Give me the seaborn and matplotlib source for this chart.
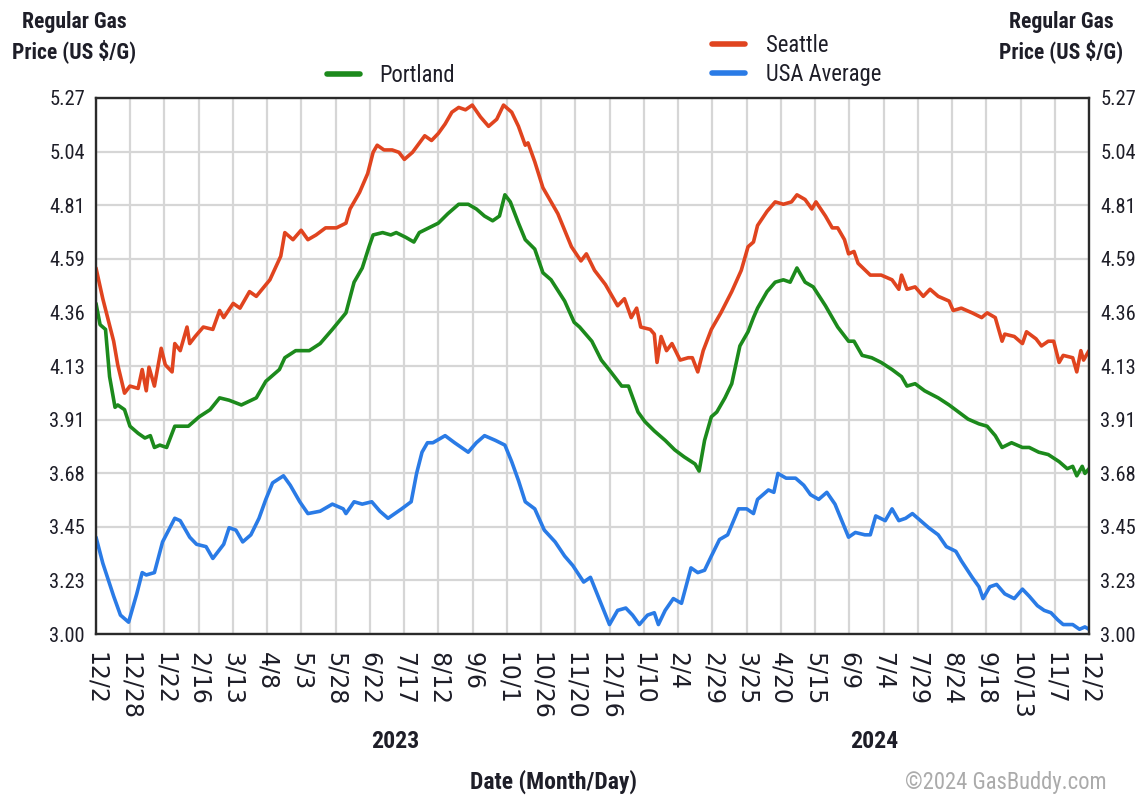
import numpy as np
import pandas as pd
import matplotlib
matplotlib.use("Agg")
import matplotlib.pyplot as plt
from matplotlib.lines import Line2D
from matplotlib.font_manager import FontProperties
from matplotlib.textpath import TextPath
import seaborn as sns

# ---------------- data (days since 12/2/2022, price in US $/gal) ----------------
seattle_days = [0, 5, 13, 16, 21, 25, 31, 34, 37, 39, 43, 48, 51, 56, 58, 62, 67, 69, 73, 79,
                86, 91, 94, 101, 106, 113, 118, 128, 136, 139, 145, 151, 156, 162, 169, 177, 184,
                187, 194, 200, 204, 207, 212, 218, 223, 227, 233, 242, 247, 252, 257, 262, 267,
                272, 277, 283, 289, 295, 300, 306, 311, 316, 318, 323, 329, 335, 340, 345, 350,
                357, 361, 367, 375, 378, 384, 389, 394, 398, 401, 408, 411, 413, 416, 420, 424,
                430, 436, 439, 443, 447, 453, 460, 468, 475, 480, 484, 487, 494, 500, 506, 512,
                516, 522, 527, 530, 537, 542, 546, 551, 554, 558, 561, 570, 578, 586, 591, 593,
                597, 603, 609, 614, 620, 628, 631, 637, 645, 652, 656, 662, 667, 669, 676, 682,
                685, 692, 696, 701, 705, 709, 712, 719, 722, 725, 727, 731]
seattle_price = [4.55, 4.42, 4.24, 4.14, 4.02, 4.05, 4.04, 4.12, 4.03, 4.13, 4.05, 4.21, 4.14,
                 4.11, 4.23, 4.20, 4.30, 4.23, 4.26, 4.30, 4.29, 4.37, 4.34, 4.40, 4.38, 4.45,
                 4.43, 4.50, 4.60, 4.70, 4.67, 4.71, 4.67, 4.69, 4.72, 4.72, 4.74, 4.80, 4.87,
                 4.95, 5.04, 5.07, 5.05, 5.05, 5.04, 5.01, 5.04, 5.11, 5.09, 5.12, 5.16, 5.21,
                 5.23, 5.22, 5.24, 5.19, 5.15, 5.18, 5.24, 5.21, 5.15, 5.07, 5.08, 5.00, 4.89,
                 4.83, 4.78, 4.71, 4.64, 4.58, 4.61, 4.54, 4.48, 4.45, 4.39, 4.42, 4.34, 4.38,
                 4.30, 4.29, 4.27, 4.15, 4.26, 4.20, 4.23, 4.16, 4.17, 4.17, 4.11, 4.20, 4.29,
                 4.36, 4.45, 4.54, 4.64, 4.66, 4.73, 4.79, 4.83, 4.82, 4.83, 4.86, 4.84, 4.80,
                 4.83, 4.77, 4.72, 4.72, 4.67, 4.61, 4.62, 4.57, 4.52, 4.52, 4.50, 4.46, 4.52,
                 4.46, 4.47, 4.43, 4.46, 4.43, 4.41, 4.37, 4.38, 4.36, 4.34, 4.36, 4.34, 4.24,
                 4.27, 4.26, 4.23, 4.28, 4.25, 4.22, 4.24, 4.24, 4.15, 4.18, 4.17, 4.11, 4.20,
                 4.16, 4.20]

portland_days = [0, 3, 7, 10, 14, 16, 21, 25, 31, 36, 40, 43, 47, 52, 58, 68, 76, 84, 91, 98,
                 107, 118, 125, 135, 139, 147, 157, 165, 174, 184, 190, 196, 201, 204, 211, 217,
                 221, 228, 234, 238, 245, 252, 259, 267, 274, 280, 286, 292, 297, 301, 305, 311,
                 316, 323, 329, 335, 345, 352, 356, 365, 372, 379, 387, 392, 399, 404, 411, 419,
                 426, 433, 441, 444, 448, 453, 457, 463, 468, 474, 480, 484, 487, 494, 500, 506,
                 511, 516, 522, 528, 537, 546, 554, 558, 564, 571, 578, 586, 593, 597, 603, 610,
                 620, 628, 635, 642, 650, 656, 662, 667, 674, 682, 687, 694, 701, 709, 715, 719,
                 722, 726, 728, 731]
portland_price = [4.40, 4.31, 4.29, 4.09, 3.96, 3.97, 3.95, 3.88, 3.85, 3.83, 3.84, 3.79, 3.80,
                  3.79, 3.88, 3.88, 3.92, 3.95, 4.00, 3.99, 3.97, 4.00, 4.07, 4.12, 4.17, 4.20,
                  4.20, 4.23, 4.29, 4.36, 4.49, 4.55, 4.64, 4.69, 4.70, 4.69, 4.70, 4.68, 4.66,
                  4.70, 4.72, 4.74, 4.78, 4.82, 4.82, 4.80, 4.77, 4.75, 4.77, 4.86, 4.83, 4.74,
                  4.67, 4.63, 4.53, 4.50, 4.41, 4.32, 4.30, 4.24, 4.16, 4.11, 4.05, 4.05, 3.94,
                  3.90, 3.86, 3.82, 3.78, 3.75, 3.72, 3.69, 3.82, 3.92, 3.94, 4.00, 4.06, 4.22,
                  4.28, 4.34, 4.38, 4.45, 4.49, 4.50, 4.49, 4.55, 4.49, 4.47, 4.39, 4.30, 4.24,
                  4.24, 4.18, 4.17, 4.15, 4.12, 4.09, 4.05, 4.06, 4.03, 4.00, 3.97, 3.94, 3.91,
                  3.89, 3.88, 3.84, 3.79, 3.81, 3.79, 3.79, 3.77, 3.76, 3.73, 3.70, 3.71, 3.67,
                  3.71, 3.68, 3.70]

usa_days = [0, 5, 13, 18, 24, 27, 30, 34, 37, 43, 49, 58, 62, 69, 74, 81, 86, 94, 98, 103, 108,
            114, 120, 125, 130, 138, 143, 150, 156, 165, 174, 182, 184, 190, 196, 203, 209, 215,
            220, 225, 232, 236, 240, 244, 248, 257, 264, 269, 274, 280, 286, 294, 301, 306, 311,
            316, 323, 330, 338, 345, 351, 359, 364, 371, 378, 384, 390, 395, 400, 406, 411, 414,
            419, 425, 431, 438, 443, 448, 453, 459, 465, 473, 479, 484, 487, 495, 499, 502, 508,
            515, 521, 526, 532, 538, 544, 549, 554, 559, 566, 570, 574, 581, 586, 591, 596, 601,
            607, 613, 620, 626, 633, 637, 645, 650, 653, 658, 663, 669, 676, 682, 687, 693, 698,
            703, 708, 712, 719, 724, 728, 731]
usa_price = [3.41, 3.30, 3.16, 3.08, 3.05, 3.11, 3.17, 3.26, 3.25, 3.26, 3.39, 3.49, 3.48, 3.41,
             3.38, 3.37, 3.32, 3.38, 3.45, 3.44, 3.39, 3.42, 3.49, 3.57, 3.64, 3.67, 3.63, 3.56,
             3.51, 3.52, 3.55, 3.53, 3.51, 3.56, 3.55, 3.56, 3.52, 3.49, 3.51, 3.53, 3.56, 3.68,
             3.77, 3.81, 3.81, 3.84, 3.81, 3.79, 3.77, 3.81, 3.84, 3.82, 3.80, 3.73, 3.65, 3.56,
             3.53, 3.44, 3.39, 3.33, 3.29, 3.22, 3.24, 3.14, 3.04, 3.10, 3.11, 3.08, 3.04, 3.08,
             3.09, 3.04, 3.10, 3.15, 3.13, 3.28, 3.26, 3.27, 3.33, 3.40, 3.42, 3.53, 3.53, 3.51,
             3.57, 3.61, 3.60, 3.68, 3.66, 3.66, 3.63, 3.59, 3.57, 3.60, 3.55, 3.48, 3.41, 3.43,
             3.42, 3.42, 3.50, 3.48, 3.53, 3.48, 3.49, 3.51, 3.48, 3.45, 3.42, 3.37, 3.35, 3.31,
             3.24, 3.20, 3.15, 3.20, 3.21, 3.17, 3.15, 3.19, 3.16, 3.12, 3.10, 3.09, 3.06, 3.04,
             3.04, 3.02, 3.03, 3.02]

series_names = ["Seattle", "Portland", "USA Average"]
series_colors = ["#e0441f", "#1c8a1c", "#2a7be6"]

y_tick_labels = ["3.00", "3.23", "3.45", "3.68", "3.91", "4.13", "4.36", "4.59", "4.81", "5.04", "5.27"]
x_tick_labels = ["12/2", "12/28", "1/22", "2/16", "3/13", "4/8", "5/3", "5/28", "6/22", "7/17",
                 "8/12", "9/6", "10/1", "10/26", "11/20", "12/16", "1/10", "2/4", "2/29", "3/25",
                 "4/20", "5/15", "6/9", "7/4", "7/29", "8/24", "9/18", "10/13", "11/7", "12/2"]
n_days = 731
year_labels = ["2023", "2024"]

# ---------------- build table ----------------
df = pd.concat([
    pd.DataFrame({"day": seattle_days, "price": seattle_price, "series": "Seattle"}),
    pd.DataFrame({"day": portland_days, "price": portland_price, "series": "Portland"}),
    pd.DataFrame({"day": usa_days, "price": usa_price, "series": "USA Average"}),
], ignore_index=True)

sns.set_theme(style="white")
NARROW = ["Roboto Condensed", "Archivo Narrow", "Liberation Sans", "DejaVu Sans"]
plt.rcParams["font.family"] = NARROW
TXT = "#1e1e28"


def fit_size(text, target_px, weight="normal", family=NARROW):
    """font size (pt) so that `text` is about target_px wide at 100 dpi"""
    fp = FontProperties(family=family, weight=weight)
    w = TextPath((0, 0), text, size=100, prop=fp).get_extents().width
    return target_px * 72.0 / w


fs_tick = fit_size("5.27", 33.5)
fs_leg = fit_size("USA Average", 113)
fs_bold = fit_size("Price (US $/G)", 122, weight="bold")
fs_year = fit_size("2023", 46, weight="bold")
fs_date = fit_size("Date (Month/Day)", 164, weight="bold")
fs_copy = fit_size("\u00a92024 GasBuddy.com", 200)

W, H = 1137, 800
fig = plt.figure(figsize=(W / 100, H / 100), dpi=100)
fig.patch.set_facecolor("white")
L, R, T, B = 96, 1089, 98, 634
ax = fig.add_axes([L / W, 1 - B / H, (R - L) / W, (B - T) / H])

palette = dict(zip(series_names, series_colors))
sns.lineplot(data=df, x="day", y="price", hue="series", hue_order=series_names,
             palette=palette, linewidth=2.6, estimator=None, sort=False,
             legend=False, ax=ax)

ax.set_xlim(0, n_days)
ymin, ymax = float(y_tick_labels[0]), float(y_tick_labels[-1])
ax.set_ylim(ymin, ymax)
ax.set_xlabel("")
ax.set_ylabel("")

ax.set_yticks(np.linspace(ymin, ymax, len(y_tick_labels)))
ax.set_yticklabels(y_tick_labels)
ax.set_xticks(np.linspace(0, n_days, len(x_tick_labels)))
ax.set_xticklabels(x_tick_labels, rotation=270, ha="center", va="top",
                   family="DejaVu Sans", fontsize=17, color=TXT)

ax.tick_params(axis="y", length=0, labelsize=fs_tick, labelcolor=TXT, pad=8,
               left=False, right=False, labelleft=True, labelright=True)
ax.tick_params(axis="x", length=0, pad=13)
for lbl in ax.get_yticklabels() + ax.get_yticklabels(which="major"):
    lbl.set_verticalalignment("center_baseline")

ax.grid(True, color="#d6d6d6", linewidth=1.6)
ax.set_axisbelow(True)
for sp in ax.spines.values():
    sp.set_visible(True)
    sp.set_color("#2a2a2a")
    sp.set_linewidth(1.7)

# ---------------- legends ----------------
h = {n: Line2D([0], [0], color=c, lw=4) for n, c in zip(series_names, series_colors)}
leg1 = fig.legend(handles=[h["Portland"]], labels=["Portland"], loc="center left",
                  bbox_to_anchor=(327 / W, 1 - 75 / H), frameon=False, fontsize=fs_leg,
                  handlelength=1.45, handletextpad=0.85, borderpad=0, borderaxespad=0,
                  labelcolor=TXT)
leg2 = fig.legend(handles=[h["Seattle"], h["USA Average"]], labels=["Seattle", "USA Average"],
                  loc="center left", bbox_to_anchor=(712 / W, 1 - 60 / H), frameon=False,
                  fontsize=fs_leg, handlelength=1.45, handletextpad=0.95, borderpad=0,
                  borderaxespad=0, labelspacing=0.3, labelcolor=TXT)

# ---------------- titles / labels ----------------
ylab = "Regular Gas\nPrice (US $/G)"
fig.text(74 / W, 1 - 37 / H, ylab, ha="center", va="center", fontsize=fs_bold,
         fontweight="bold", color=TXT, linespacing=1.3, multialignment="center")
fig.text(1061 / W, 1 - 37 / H, ylab, ha="center", va="center", fontsize=fs_bold,
         fontweight="bold", color=TXT, linespacing=1.3, multialignment="center")
fig.text(395 / W, 1 - 741 / H, year_labels[0], ha="center", va="center", fontsize=fs_year,
         fontweight="bold", color=TXT)
fig.text(874 / W, 1 - 741 / H, year_labels[1], ha="center", va="center", fontsize=fs_year,
         fontweight="bold", color=TXT)
fig.text(553 / W, 1 - 782 / H, "Date (Month/Day)", ha="center", va="center", fontsize=fs_date,
         fontweight="bold", color=TXT)
fig.text(1006 / W, 1 - 782 / H, "\u00a92024 GasBuddy.com", ha="center", va="center",
         fontsize=fs_copy, color="#ababab")

fig.savefig("out.png", dpi=100, facecolor="white")
